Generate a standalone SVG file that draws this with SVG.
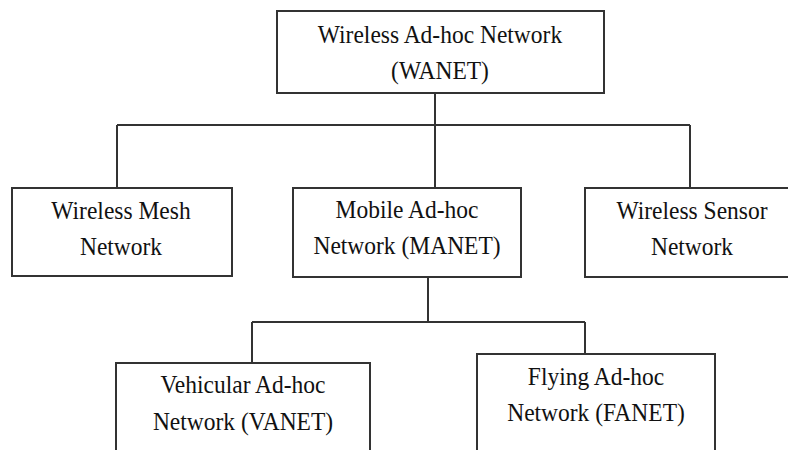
<svg xmlns="http://www.w3.org/2000/svg" width="788" height="450" viewBox="0 0 788 450">
  <style>
    .box { fill: #ffffff; stroke: #333333; stroke-width: 2; }
    .wire { fill: none; stroke: #333333; stroke-width: 2; }
    .label { font-family: "Liberation Serif", "Times New Roman", serif; font-size: 23.5px; fill: #111111; text-anchor: middle; }
  </style>
  <rect width="788" height="450" fill="#ffffff"/>

  <g id="connectors">
    <path class="wire" d="M435 93 V125 M117 125 H690 M117 125 V188 M435 125 V188 M690 125 V188"/>
    <path class="wire" d="M428 277 V322 M252 322 H585 M252 322 V363 M585 322 V354"/>
  </g>

  <g id="wanet">
    <rect class="box" x="277" y="11" width="327" height="82"/>
    <text class="label" transform="translate(440,43) scale(1,1.1)">Wireless Ad-hoc Network</text>
    <text class="label" transform="translate(440,79) scale(1,1.1)">(WANET)</text>
  </g>

  <g id="wmn">
    <rect class="box" x="12" y="188" width="220" height="88"/>
    <text class="label" transform="translate(121,219) scale(1,1.1)">Wireless Mesh</text>
    <text class="label" transform="translate(121,255) scale(1,1.1)">Network</text>
  </g>

  <g id="manet">
    <rect class="box" x="293" y="188" width="228" height="89"/>
    <text class="label" transform="translate(407,218) scale(1,1.1)">Mobile Ad-hoc</text>
    <text class="label" transform="translate(407,254) scale(1,1.1)">Network (MANET)</text>
  </g>

  <g id="wsn">
    <rect class="box" x="585" y="188" width="216" height="89"/>
    <text class="label" transform="translate(692,219) scale(1,1.1)">Wireless Sensor</text>
    <text class="label" transform="translate(692,255) scale(1,1.1)">Network</text>
  </g>

  <g id="vanet">
    <rect class="box" x="116" y="363" width="254" height="100"/>
    <text class="label" transform="translate(243,393) scale(1,1.1)">Vehicular Ad-hoc</text>
    <text class="label" transform="translate(243,430) scale(1,1.1)">Network (VANET)</text>
  </g>

  <g id="fanet">
    <rect class="box" x="477" y="354" width="238" height="110"/>
    <text class="label" transform="translate(596,385) scale(1,1.1)">Flying Ad-hoc</text>
    <text class="label" transform="translate(596,421) scale(1,1.1)">Network (FANET)</text>
  </g>
</svg>
